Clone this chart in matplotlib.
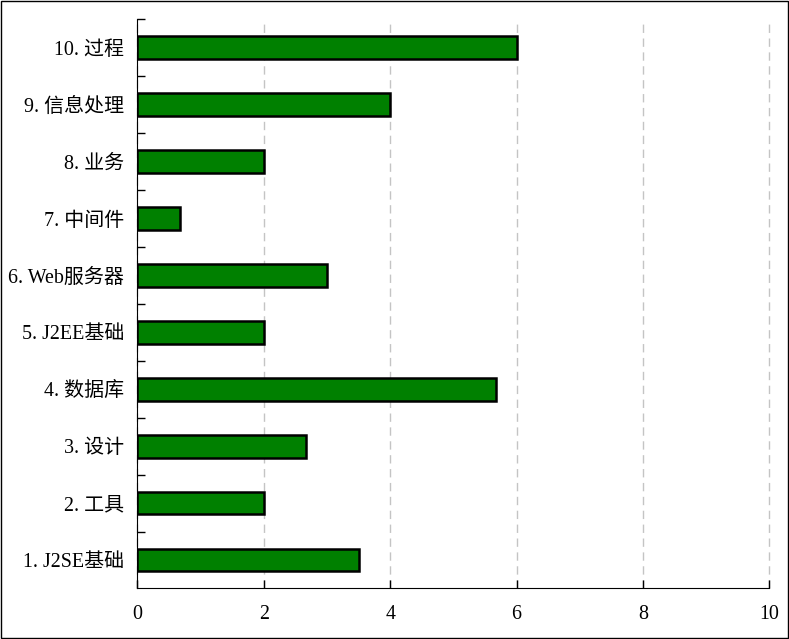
#!/usr/bin/env python3
"""Horizontal bar chart of skill scores by topic."""

import matplotlib

matplotlib.use("Agg")
import matplotlib.pyplot as plt
from matplotlib.patches import Rectangle
from matplotlib.ticker import FixedLocator, NullFormatter
import numpy as np

CATEGORIES = [
    "1. J2SE基础",
    "2. 工具",
    "3. 设计",
    "4. 数据库",
    "5. J2EE基础",
    "6. Web服务器",
    "7. 中间件",
    "8. 业务",
    "9. 信息处理",
    "10. 过程",
]
SCORES = [3.5, 2, 2.67, 5.67, 2, 3, 0.67, 2, 4, 6]
X_TICKS = [0, 2, 4, 6, 8, 10]

W, H = 789, 639

plt.rcParams["font.family"] = ["Liberation Serif", "Noto Sans CJK SC", "DejaVu Sans"]

fig = plt.figure(figsize=(W / 100, H / 100), dpi=100, facecolor="white")

# Black outer frame round the picture (offsets chosen so the lines snap to the right pixels)
fig.add_artist(
    Rectangle(
        (1.4 / W, 0.9 / H),
        787 / W,
        636.7 / H,
        transform=fig.transFigure,
        fill=False,
        edgecolor="black",
        linewidth=1,
    )
)

ax = fig.add_axes([137.4 / W, 50.6 / H, 632 / W, 569 / H])

positions = np.arange(len(SCORES)) + 0.5
ax.barh(positions, SCORES, height=0.4, color="#008000", edgecolor="black", linewidth=1.8, zorder=3)

ax.set_xlim(0, 10)
ax.set_ylim(0, len(SCORES))
ax.set_xticks(X_TICKS)
ax.grid(True, axis="x", color="#c4c4c4", linestyle=(0, (6, 4)), linewidth=1, zorder=1)
# The last grid line falls on the axes edge
for line in ax.get_xgridlines():
    line.set_clip_on(False)

# Ticks sit between the bars, labels at the bar centres
ax.yaxis.set_major_locator(FixedLocator(range(1, len(SCORES) + 1)))
ax.yaxis.set_major_formatter(NullFormatter())
ax.yaxis.set_minor_locator(FixedLocator(positions))
ax.set_yticklabels(CATEGORIES, minor=True)

ax.tick_params(axis="x", direction="in", length=6, width=1, labelsize=14.4, pad=12)
ax.tick_params(axis="y", which="major", direction="in", length=6, width=1)
ax.tick_params(axis="y", which="minor", length=0, labelsize=14.4, pad=9.4)

ax.spines["top"].set_visible(False)
ax.spines["right"].set_visible(False)

fig.savefig("out.png", dpi=100, facecolor="white")
plt.close(fig)
